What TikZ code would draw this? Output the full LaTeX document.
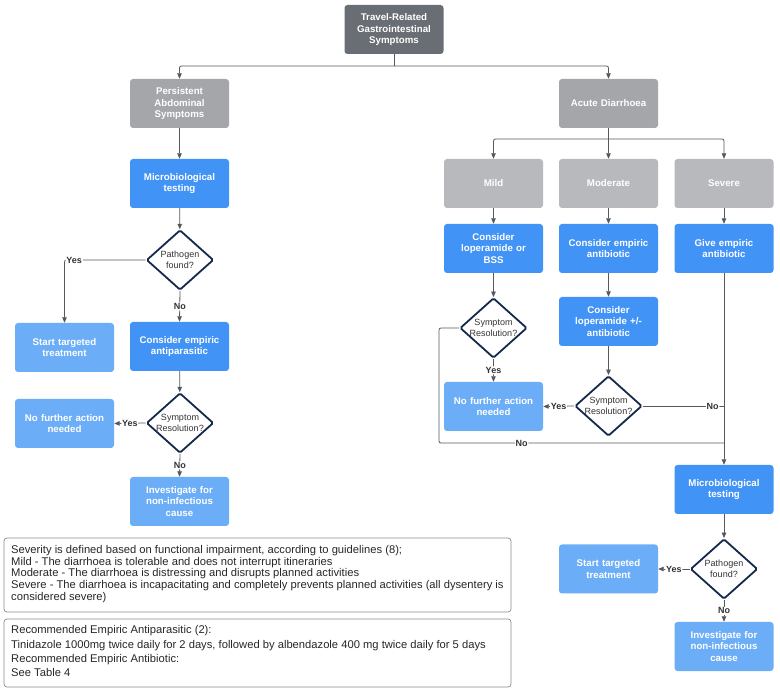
\documentclass[tikz,border=0pt]{standalone}
\usepackage{fontspec}
\setmainfont{Liberation Sans}
\usetikzlibrary{arrows.meta,shapes.geometric}
\definecolor{topgray}{HTML}{696D74}
\definecolor{midgray}{HTML}{A4A6A9}
\definecolor{ltgray}{HTML}{B7B9BC}
\definecolor{bblue}{HTML}{4293F6}
\definecolor{lblue}{HTML}{6BADF6}
\definecolor{navy}{HTML}{15294D}
\definecolor{linec}{HTML}{55585D}
\definecolor{dtxt}{HTML}{333333}
\definecolor{boxline}{HTML}{8A8A8A}
\begin{document}
\begin{tikzpicture}[x=1pt,y=-1pt,
  box/.style={rounded corners=3pt, minimum width=99pt, minimum height=49pt, inner sep=0pt,
    text width=96pt, align=center, font=\fontsize{9.7}{11.4}\selectfont\bfseries, text=white},
  gtop/.style={box, fill=topgray},
  gmid/.style={box, fill=midgray},
  glt/.style={box, fill=ltgray},
  bl/.style={box, fill=bblue},
  lb/.style={box, fill=lblue},
  dia/.style={diamond, draw=navy, line width=1.8pt, fill=white, minimum width=67pt,
    minimum height=60pt, inner sep=0pt, rounded corners=1.5pt},
  dtext/.style={font=\fontsize{9}{11}\selectfont, text=dtxt, align=center},
  arr/.style={draw=linec, line width=0.8pt, rounded corners=2pt, -{Triangle[length=5.5pt,width=4.5pt]}},
  conn/.style={draw=linec, line width=0.8pt, rounded corners=2pt},
  lab/.style={font=\fontsize{9}{10}\selectfont\bfseries, text=dtxt, fill=white, inner sep=0.8pt},
  note/.style={draw=boxline, line width=0.7pt, rounded corners=3pt},
  notetext/.style={font=\fontsize{11.2}{11.8}\selectfont, text=black!85, align=left, inner sep=0pt, anchor=north west}
]
\useasboundingbox (0,0) rectangle (780,692);

% top
\node[gtop] (top) at (394,29.5) {Travel-Related\\Gastrointestinal\\Symptoms};
\node[gmid] (pas) at (179.5,103.5) {Persistent\\Abdominal\\Symptoms};
\node[gmid] (acute) at (608.5,103.5) {Acute Diarrhoea};

% left branch
\node[bl] (mt1) at (179.5,183.5) {Microbiological\\testing};
\node[dia] (pf1) at (180,260) {};
\node[dtext] (pf1t) at (pf1) {Pathogen\\found?};
\node[lb] (stt1) at (64.5,347.5) {Start targeted\\treatment};
\node[bl] (cea) at (179.5,346.5) {Consider empiric\\antiparasitic};
\node[dia] (sr1) at (180,423) {};
\node[dtext] (sr1t) at (sr1) {Symptom\\Resolution?};
\node[lb] (nfa1) at (64.5,423.5) {No further action\\needed};
\node[lb] (inv1) at (179.5,501.5) {Investigate for\\non-infectious\\cause};

% right branch
\node[glt] (mild) at (493.5,183.5) {Mild};
\node[glt] (mod) at (608.5,183.5) {Moderate};
\node[glt] (sev) at (724,183.5) {Severe};
\node[bl] (clb) at (493.5,248.5) {Consider\\loperamide or\\BSS};
\node[bl] (cea2) at (608.5,248.5) {Consider empiric\\antibiotic};
\node[bl] (gea) at (724,248.5) {Give empiric\\antibiotic};
\node[dia] (sr2) at (493.5,328) {};
\node[dtext] (sr2t) at (sr2) {Symptom\\Resolution?};
\node[bl] (clab) at (608.5,321.5) {Consider\\loperamide +/-\\antibiotic};
\node[lb] (nfa2) at (493.5,406.5) {No further action\\needed};
\node[dia] (sr3) at (608.5,406) {};
\node[dtext] (sr3t) at (sr3) {Symptom\\Resolution?};
\node[bl] (mt2) at (724,489.5) {Microbiological\\testing};
\node[dia] (pf2) at (724,569) {};
\node[dtext] (pf2t) at (pf2) {Pathogen\\found?};
\node[lb] (stt2) at (608.5,569) {Start targeted\\treatment};
\node[lb] (inv2) at (724,646.5) {Investigate for\\non-infectious\\cause};

% junction coordinates
\coordinate (j1) at (394,66);
\coordinate (j2) at (608.5,139);
\coordinate (jl) at (439,328);
\coordinate (jb) at (439,443);
\coordinate (jv) at (724,443);
\coordinate (jn) at (724,406);

% connectors top
\draw[conn] (top.south) -- (j1);
\draw[arr] (j1) -| (pas.north);
\draw[arr] (j1) -| (acute.north);
% left
\draw[arr] (pas) -- (mt1);
\draw[arr] (mt1) -- (pf1);
\draw[arr] (pf1.west) -| node[lab, pos=0.44] {Yes} (stt1.north);
\draw[arr] (pf1.south) -- node[lab] {No} (cea.north);
\draw[arr] (cea) -- (sr1);
\draw[arr] (sr1.west) -- node[lab] {Yes} (nfa1.east);
\draw[arr] (sr1.south) -- node[lab] {No} (inv1.north);
% right
\draw[conn] (acute.south) -- (j2);
\draw[arr] (j2) -- (mod.north);
\draw[arr] (j2) -| (mild.north);
\draw[arr] (j2) -| (sev.north);
\draw[arr] (mild) -- (clb);
\draw[arr] (mod) -- (cea2);
\draw[arr] (sev) -- (gea);
\draw[arr] (clb) -- (sr2);
\draw[arr] (sr2.south) -- node[lab] {Yes} (nfa2.north);
\draw[arr] (cea2) -- (clab);
\draw[arr] (clab) -- (sr3);
\draw[arr] (sr3.west) -- node[lab] {Yes} (nfa2.east);
\draw[conn] (sr3.east) -- node[lab, pos=0.86] {No} (jn);
\draw[conn] (sr2.west) -- (jl) -- (jb) -- node[lab, pos=0.29] {No} (jv);
\draw[arr] (gea.south) -- (mt2.north);
\draw[arr] (mt2) -- (pf2);
\draw[arr] (pf2.west) -- node[lab] {Yes} (stt2.east);
\draw[arr] (pf2.south) -- node[lab] {No} (inv2.north);

% notes
\draw[note] (4,538) rectangle (511,612);
\node[notetext] (n1) at (11,545) {Severity is defined based on functional impairment, according to guidelines (8);\\
Mild - The diarrhoea is tolerable and does not interrupt itineraries\\
Moderate - The diarrhoea is distressing and disrupts planned activities\\
Severe - The diarrhoea is incapacitating and completely prevents planned activities (all dysentery is\\
considered severe)};
\draw[note] (4,619) rectangle (511,687);
\node[notetext, font=\fontsize{11.2}{14.2}\selectfont] (n2) at (11,625.5) {Recommended Empiric Antiparasitic (2):\\
Tinidazole 1000mg twice daily for 2 days, followed by albendazole 400 mg twice daily for 5 days\\
Recommended Empiric Antibiotic:\\
See Table 4};
\end{tikzpicture}
\end{document}
